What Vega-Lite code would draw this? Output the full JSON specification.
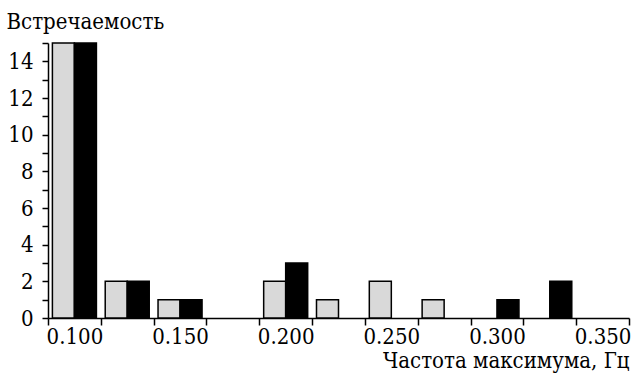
{
  "$schema": "https://vega.github.io/schema/vega-lite/v6.json",
  "width": 581,
  "height": 275,
  "autosize": {"type": "none"},
  "padding": {"left": 48, "top": 43, "right": 4, "bottom": 67},
  "background": "white",
  "config": {"view": {"stroke": null}, "font": "DejaVu Serif Condensed"},
  "data": {"values": [
    {"freq": "0.100", "series": "1", "count": 15},
    {"freq": "0.100", "series": "2", "count": 15},
    {"freq": "0.125", "series": "1", "count": 2},
    {"freq": "0.125", "series": "2", "count": 2},
    {"freq": "0.150", "series": "1", "count": 1},
    {"freq": "0.150", "series": "2", "count": 1},
    {"freq": "0.200", "series": "1", "count": 2},
    {"freq": "0.200", "series": "2", "count": 3},
    {"freq": "0.225", "series": "1", "count": 1},
    {"freq": "0.250", "series": "1", "count": 2},
    {"freq": "0.275", "series": "1", "count": 1},
    {"freq": "0.300", "series": "2", "count": 1},
    {"freq": "0.325", "series": "2", "count": 2}
  ]},
  "mark": {"type": "bar", "stroke": "black", "strokeWidth": 1.5},
  "encoding": {
    "x": {
      "field": "freq", "type": "ordinal",
      "scale": {"domain": ["0.100","0.125","0.150","0.175","0.200","0.225","0.250","0.275","0.300","0.325","0.350"], "paddingInner": 0, "paddingOuter": 0},
      "axis": {
        "title": "Частота максимума, Гц",
        "tickBand": "extent",
        "labelExpr": "indexof(['0.100','0.150','0.200','0.250','0.300','0.350'], datum.value) >= 0 ? datum.value : ''",
        "labelAngle": 0,
        "tickSize": 7, "tickWidth": 1.5, "tickColor": "black",
        "domainColor": "black", "domainWidth": 1.5,
        "labelFont": "DejaVu Serif Condensed", "labelFontSize": 22, "labelColor": "black", "labelPadding": 1,
        "titleFont": "DejaVu Serif Condensed", "titleFontSize": 22, "titleFontWeight": "normal", "titleColor": "black",
        "titleAnchor": "end", "titlePadding": 3
      }
    },
    "xOffset": {"field": "series", "scale": {"domain": ["1", "2"], "paddingOuter": 0.2, "paddingInner": 0}},
    "y": {
      "field": "count", "type": "quantitative",
      "scale": {"domain": [0, 15], "nice": false},
      "axis": {
        "title": "Встречаемость",
        "values": [0,1,2,3,4,5,6,7,8,9,10,11,12,13,14,15],
        "labelExpr": "datum.value % 2 == 0 ? datum.label : ''",
        "grid": false,
        "tickSize": 6, "tickWidth": 1.5, "tickColor": "black",
        "domainColor": "black", "domainWidth": 1.5,
        "labelFont": "DejaVu Serif Condensed", "labelFontSize": 22, "labelColor": "black", "labelPadding": 9,
        "titleFont": "DejaVu Serif Condensed", "titleFontSize": 22, "titleFontWeight": "normal", "titleColor": "black",
        "titleAngle": 0, "titleAlign": "left", "titleBaseline": "alphabetic", "titleX": -42, "titleY": -15
      }
    },
    "color": {"field": "series", "scale": {"domain": ["1", "2"], "range": ["#d9d9d9", "#000000"]}, "legend": null}
  }
}
